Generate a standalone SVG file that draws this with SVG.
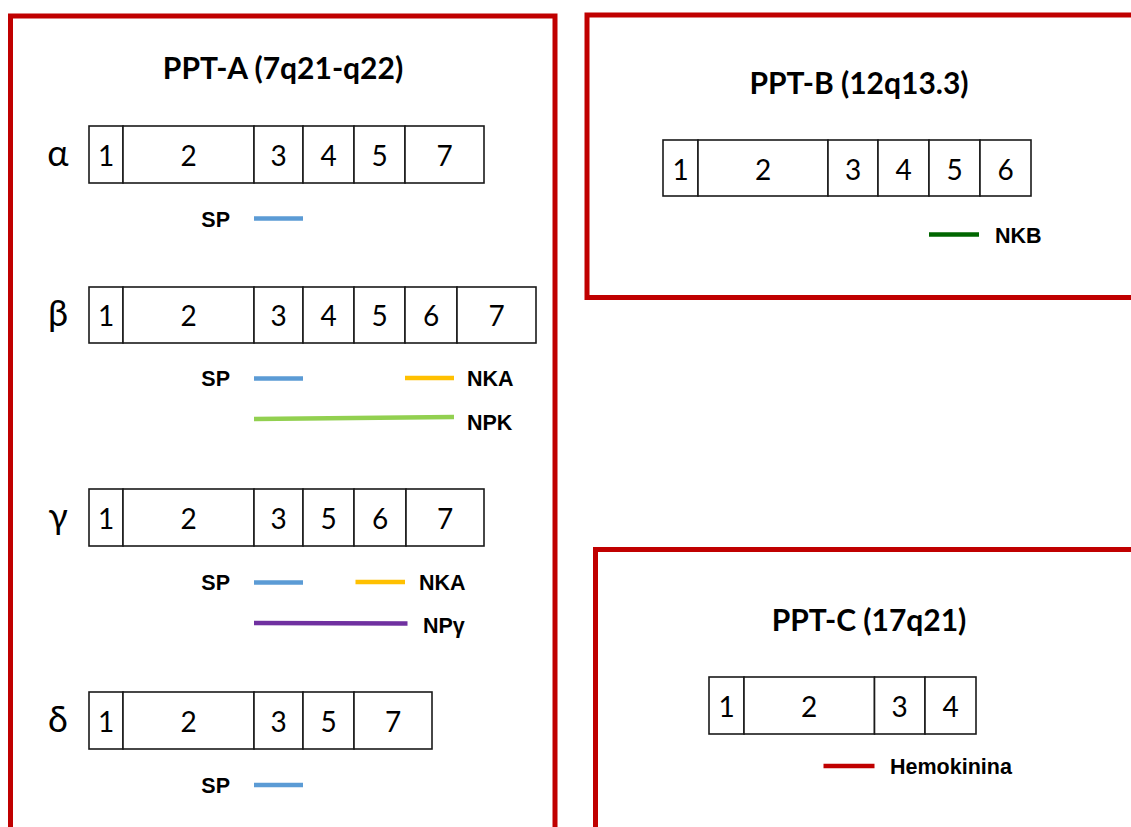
<svg xmlns="http://www.w3.org/2000/svg" width="1131" height="827" viewBox="0 0 1131 827">
  <style>
    .frame { fill: none; stroke: #C00000; stroke-width: 5; }
    .title { font-family: Lato, "Liberation Sans", sans-serif; font-weight: bold; font-size: 30px; fill: #000; text-anchor: middle; }
    .cell { fill: #fff; stroke: #1a1a1a; stroke-width: 1.6; }
    .num { font-family: Lato, "Liberation Sans", sans-serif; font-size: 28px; fill: #000; text-anchor: middle; }
    .greek { font-family: Lato, "DejaVu Sans", sans-serif; font-size: 36px; fill: #000; text-anchor: middle; }
    .lbl { font-family: "Liberation Sans", Arial, sans-serif; font-weight: bold; font-size: 21.5px; fill: #000; }
    .pep { fill: none; stroke-width: 4.5; }
    .sp { stroke: #5B9BD5; }
    .nka { stroke: #FFC000; }
    .npk { stroke: #92D050; }
    .npg { stroke: #7030A0; }
    .nkb { stroke: #006600; }
    .hk { stroke: #C00000; }
  </style>

  <!-- PPT-A gene and its four splice variants -->
  <g id="ppt-a">
    <rect class="frame" x="10.5" y="16" width="544.5" height="840"/>
    <text class="title" x="283" y="79">PPT-A (7q21-q22)</text>

    <g id="alpha">
      <text class="greek" x="58" y="166">α</text>
      <rect class="cell" x="89" y="126" width="34" height="57"/>
      <rect class="cell" x="123" y="126" width="131" height="57"/>
      <rect class="cell" x="254" y="126" width="49" height="57"/>
      <rect class="cell" x="303" y="126" width="51" height="57"/>
      <rect class="cell" x="354" y="126" width="51" height="57"/>
      <rect class="cell" x="405" y="126" width="79" height="57"/>
      <text class="num" x="106" y="166">1</text>
      <text class="num" x="188.5" y="166">2</text>
      <text class="num" x="278.5" y="166">3</text>
      <text class="num" x="328.5" y="166">4</text>
      <text class="num" x="379.5" y="166">5</text>
      <text class="num" x="444.5" y="166">7</text>
    </g>

    <g id="beta">
      <text class="greek" x="58" y="326">β</text>
      <rect class="cell" x="89" y="287" width="34" height="56"/>
      <rect class="cell" x="123" y="287" width="131" height="56"/>
      <rect class="cell" x="254" y="287" width="49" height="56"/>
      <rect class="cell" x="303" y="287" width="51" height="56"/>
      <rect class="cell" x="354" y="287" width="51" height="56"/>
      <rect class="cell" x="405" y="287" width="52" height="56"/>
      <rect class="cell" x="457" y="287" width="79" height="56"/>
      <text class="num" x="106" y="326">1</text>
      <text class="num" x="188.5" y="326">2</text>
      <text class="num" x="278.5" y="326">3</text>
      <text class="num" x="328.5" y="326">4</text>
      <text class="num" x="379.5" y="326">5</text>
      <text class="num" x="431" y="326">6</text>
      <text class="num" x="496.5" y="326">7</text>
    </g>

    <g id="gamma">
      <text class="greek" x="58" y="529">γ</text>
      <rect class="cell" x="89" y="489" width="34" height="57"/>
      <rect class="cell" x="123" y="489" width="131" height="57"/>
      <rect class="cell" x="254" y="489" width="49" height="57"/>
      <rect class="cell" x="303" y="489" width="51" height="57"/>
      <rect class="cell" x="354" y="489" width="52" height="57"/>
      <rect class="cell" x="406" y="489" width="78" height="57"/>
      <text class="num" x="106" y="529">1</text>
      <text class="num" x="188.5" y="529">2</text>
      <text class="num" x="278.5" y="529">3</text>
      <text class="num" x="328.5" y="529">5</text>
      <text class="num" x="380" y="529">6</text>
      <text class="num" x="445" y="529">7</text>
    </g>

    <g id="delta">
      <text class="greek" x="58" y="732">δ</text>
      <rect class="cell" x="89" y="692" width="34" height="57"/>
      <rect class="cell" x="123" y="692" width="131" height="57"/>
      <rect class="cell" x="254" y="692" width="49" height="57"/>
      <rect class="cell" x="303" y="692" width="51" height="57"/>
      <rect class="cell" x="354" y="692" width="78" height="57"/>
      <text class="num" x="106" y="732">1</text>
      <text class="num" x="188.5" y="732">2</text>
      <text class="num" x="278.5" y="732">3</text>
      <text class="num" x="328.5" y="732">5</text>
      <text class="num" x="393" y="732">7</text>
    </g>
  </g>

  <!-- PPT-B gene -->
  <g id="ppt-b">
    <rect class="frame" x="587" y="15" width="560" height="282.5"/>
    <text class="title" x="859" y="94">PPT-B (12q13.3)</text>
    <rect class="cell" x="663" y="140" width="35" height="56"/>
    <rect class="cell" x="698" y="140" width="130" height="56"/>
    <rect class="cell" x="828" y="140" width="50" height="56"/>
    <rect class="cell" x="878" y="140" width="51" height="56"/>
    <rect class="cell" x="929" y="140" width="51" height="56"/>
    <rect class="cell" x="980" y="140" width="51" height="56"/>
    <text class="num" x="680.5" y="180">1</text>
    <text class="num" x="763" y="180">2</text>
    <text class="num" x="853" y="180">3</text>
    <text class="num" x="903.5" y="180">4</text>
    <text class="num" x="954.5" y="180">5</text>
    <text class="num" x="1005.5" y="180">6</text>
  </g>

  <!-- PPT-C gene -->
  <g id="ppt-c">
    <rect class="frame" x="595.5" y="549.5" width="560" height="300"/>
    <text class="title" x="869" y="631">PPT-C (17q21)</text>
    <rect class="cell" x="709" y="677" width="35" height="57"/>
    <rect class="cell" x="744" y="677" width="130.5" height="57"/>
    <rect class="cell" x="874.5" y="677" width="50.5" height="57"/>
    <rect class="cell" x="925" y="677" width="51" height="57"/>
    <text class="num" x="726.5" y="717">1</text>
    <text class="num" x="809" y="717">2</text>
    <text class="num" x="899.5" y="717">3</text>
    <text class="num" x="950.5" y="717">4</text>
  </g>

  <!-- peptide-coding spans under each transcript -->
  <g id="peptides">
    <line class="pep sp" x1="254" y1="218.5" x2="303" y2="218.5"/>
    <text class="lbl" x="230" y="226.5" text-anchor="end">SP</text>

    <line class="pep sp" x1="254" y1="378.5" x2="303" y2="378.5"/>
    <text class="lbl" x="230" y="386" text-anchor="end">SP</text>
    <line class="pep nka" x1="405" y1="378" x2="454" y2="378"/>
    <text class="lbl" x="467" y="386">NKA</text>
    <line class="pep npk" x1="254" y1="419" x2="454" y2="417"/>
    <text class="lbl" x="467" y="430">NPK</text>

    <line class="pep sp" x1="254" y1="582.5" x2="303" y2="582.5"/>
    <text class="lbl" x="230" y="590" text-anchor="end">SP</text>
    <line class="pep nka" x1="355.5" y1="582" x2="405" y2="582"/>
    <text class="lbl" x="419" y="590">NKA</text>
    <line class="pep npg" x1="254" y1="623" x2="407.5" y2="623.5"/>
    <text class="lbl" x="423" y="633">NPγ</text>

    <line class="pep sp" x1="254" y1="785" x2="303" y2="785"/>
    <text class="lbl" x="230" y="793" text-anchor="end">SP</text>

    <line class="pep nkb" x1="929" y1="234.5" x2="979" y2="234.5"/>
    <text class="lbl" x="995" y="242.5">NKB</text>

    <line class="pep hk" x1="823.5" y1="766" x2="874.5" y2="766"/>
    <text class="lbl" x="890" y="774">Hemokinina</text>
  </g>
</svg>
